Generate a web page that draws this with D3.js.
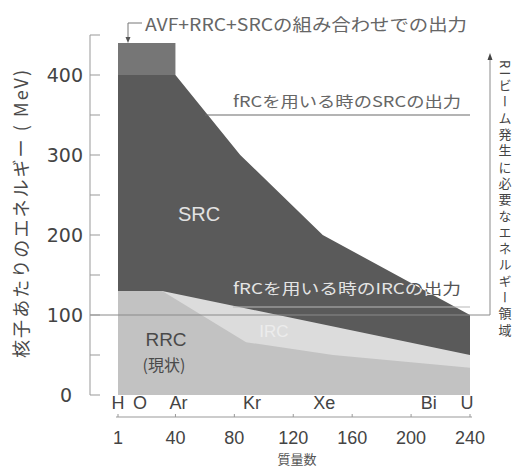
<!DOCTYPE html>
<html lang="ja">
<head>
<meta charset="utf-8">
<title>核子あたりのエネルギー</title>
<script src="https://d3js.org/d3.v7.min.js"></script>
<style>
	body { margin: 0; background: #fff; }
	text { font-family: "Liberation Sans", "Noto Sans CJK JP", sans-serif; }
	.jp { font-family: "Noto Sans CJK JP", sans-serif; }
</style>
</head>
<body>
<svg id="chart" width="515" height="470"></svg>
<script>
	// ---- data (mass number, MeV/u) ----
	var massTicks = [1, 40, 80, 120, 160, 200, 240];
	var energyTicks = [100, 200, 300, 400];
	var minorTicks = [50, 100, 150, 200, 250, 300, 350, 400, 450];
	var elements = ["H", "O", "Ar", "Kr", "Xe", "Bi", "U"];
	var elementMass = [1, 16, 42, 92, 141, 212, 238];

	var srcTop = [[1, 400], [40, 400], [84, 300], [140, 200], [240, 100]];   // SRC output
	var ircTop = [[1, 130], [31, 130], [240, 50]];                          // IRC output
	var rrcTop = [[1, 130], [31, 130], [88, 66], [147, 50], [240, 34]];     // RRC (present)
	var comboTop = [[1, 440], [40, 440]];                                    // AVF+RRC+SRC
	var comboBase = 400;
	var srcFrcLine = [[60, 350], [240, 350]];
	var ircFrcLine = [[79, 110], [240, 110]];
	var beamMin = 100;
	var beamMax = 425;

	var svg = d3.select("#chart");

	var x = d3.scaleLinear().domain([1, 240]).range([118, 470]);
	var y = d3.scaleLinear().domain([0, 450]).range([395, 35]);
	var axisX = 90;

	var area = d3.area()
		.x(function (d) { return x(d[0]); })
		.y0(y(0))
		.y1(function (d) { return y(d[1]); });

	// layers, back to front
	svg.append("path").datum(srcTop).attr("d", area).attr("fill", "#5a5a5a");
	svg.append("path").datum(ircTop).attr("d", area).attr("fill", "#dcdcdc");
	svg.append("path").datum(rrcTop).attr("d", area).attr("fill", "#c2c2c2");
	svg.append("path").datum(comboTop)
		.attr("d", area.y0(y(comboBase)))
		.attr("fill", "#767676");

	// clip = SRC band only (for the text that sits half on it)
	var line = d3.line()
		.x(function (d) { return x(d[0]); })
		.y(function (d) { return y(d[1]); });
	var band = srcTop.concat(ircTop.slice().reverse());
	svg.append("clipPath").attr("id", "srcband")
		.append("path").attr("d", line(band) + "Z");

	// fRC lines
	svg.append("path").datum(srcFrcLine).attr("d", line)
		.attr("stroke", "#6a6a6a").attr("stroke-width", 1.2).attr("fill", "none");
	svg.append("path").datum(ircFrcLine).attr("d", line)
		.attr("stroke", "#b8b8b8").attr("stroke-width", 1.2).attr("fill", "none");

	// beam energy range bracket
	var bx = x(240) + 20;
	svg.append("path")
		.attr("d", "M" + axisX + "," + y(beamMin) + "H" + bx + "V" + (y(beamMax) + 4))
		.attr("stroke", "#8a8a8a").attr("fill", "none");
	svg.append("path")
		.attr("d", "M" + (bx - 2.5) + "," + (y(beamMax) + 5) + "L" + bx + "," + (y(beamMax) - 2) + "L" + (bx + 2.5) + "," + (y(beamMax) + 5) + "Z")
		.attr("fill", "#444");

	// ---- y axis ----
	svg.append("path")
		.attr("d", "M" + axisX + "," + y(450) + "V" + y(0) + "H" + (axisX + 10))
		.attr("stroke", "#999").attr("fill", "none");
	svg.selectAll(".ytick").data(minorTicks).enter().append("line")
		.attr("x1", axisX).attr("x2", axisX + 10)
		.attr("y1", function (d) { return y(d); })
		.attr("y2", function (d) { return y(d); })
		.attr("stroke", "#999");
	svg.selectAll(".ylab").data(energyTicks).enter().append("text")
		.attr("x", 83).attr("y", function (d) { return y(d) + 7; })
		.attr("text-anchor", "end")
		.style("font-family", "DejaVu Sans").style("font-size", "19px")
		.attr("fill", "#444")
		.text(function (d) { return d; });
	svg.append("text")
		.attr("x", 72).attr("y", y(0) + 7).attr("text-anchor", "end")
		.style("font-family", "DejaVu Sans").style("font-size", "19px")
		.attr("fill", "#444").text("0");

	svg.append("text").attr("class", "jp")
		.attr("transform", "translate(28," + 214 + ") rotate(-90)")
		.attr("text-anchor", "middle")
		.attr("textLength", 288).attr("lengthAdjust", "spacing")
		.style("font-size", "18px").attr("fill", "#4a4a4a")
		.text("核子あたりのエネルギー ( MeV)");

	// ---- x axis ----
	var xAxisY = 417;
	svg.append("line")
		.attr("x1", x(1) - 2).attr("x2", x(240) + 2)
		.attr("y1", xAxisY).attr("y2", xAxisY)
		.attr("stroke", "#999");
	svg.selectAll(".xtick").data(massTicks).enter().append("line")
		.attr("x1", function (d) { return x(d); })
		.attr("x2", function (d) { return x(d); })
		.attr("y1", xAxisY - 3).attr("y2", xAxisY)
		.attr("stroke", "#999");
	svg.selectAll(".xlab").data(massTicks).enter().append("text")
		.attr("x", function (d) { return x(d); })
		.attr("y", 444)
		.attr("text-anchor", "middle")
		.style("font-size", "18px").attr("fill", "#444")
		.text(function (d) { return d; });
	svg.selectAll(".elem").data(elements).enter().append("text")
		.attr("x", function (d, i) { return x(elementMass[i]); })
		.attr("y", 409)
		.attr("text-anchor", "middle")
		.style("font-size", "18px").attr("fill", "#444")
		.text(function (d) { return d; });
	svg.append("text").attr("class", "jp")
		.attr("x", 297).attr("y", 464).attr("text-anchor", "middle")
		.style("font-size", "13px").attr("fill", "#555")
		.text("質量数");

	// ---- annotations ----
	svg.append("text").attr("class", "jp")
		.attr("x", 145).attr("y", 31)
		.attr("textLength", 322).attr("lengthAdjust", "spacingAndGlyphs")
		.style("font-size", "17px").attr("fill", "#666")
		.text("AVF+RRC+SRCの組み合わせでの出力");
	var ax = x(1) + 10;
	svg.append("path")
		.attr("d", "M" + (ax + 14) + ",23H" + ax + "V" + (y(440) - 5))
		.attr("stroke", "#777").attr("fill", "none");
	svg.append("path")
		.attr("d", "M" + (ax - 2.5) + "," + (y(440) - 6) + "L" + ax + "," + y(440) + "L" + (ax + 2.5) + "," + (y(440) - 6) + "Z")
		.attr("fill", "#555");

	svg.append("text").attr("class", "jp")
		.attr("x", 233).attr("y", 107)
		.attr("textLength", 228).attr("lengthAdjust", "spacingAndGlyphs")
		.style("font-size", "15px").attr("fill", "#666")
		.text("fRCを用いる時のSRCの出力");

	// IRC text: dark over white, light over SRC band
	function ircText(fill) {
		return svg.append("text").attr("class", "jp")
			.attr("x", 233).attr("y", 294)
			.attr("textLength", 228).attr("lengthAdjust", "spacingAndGlyphs")
			.style("font-size", "15px").attr("fill", fill)
			.text("fRCを用いる時のIRCの出力");
	}
	ircText("#555");
	ircText("#e4e4e4").attr("clip-path", "url(#srcband)");

	svg.append("text")
		.attr("x", 199).attr("y", 221).attr("text-anchor", "middle")
		.style("font-size", "20px").attr("fill", "#e2e2e2").text("SRC");
	svg.append("text")
		.attr("x", 166).attr("y", 346).attr("text-anchor", "middle")
		.style("font-size", "19px").attr("fill", "#4a4a4a").text("RRC");
	svg.append("text").attr("class", "jp")
		.attr("x", 164).attr("y", 371).attr("text-anchor", "middle")
		.style("font-size", "16px").attr("fill", "#4a4a4a").text("(現状)");
	svg.append("text")
		.attr("x", 274).attr("y", 337).attr("text-anchor", "middle")
		.style("font-size", "17px").attr("fill", "#ececec").text("IRC");

	// right vertical caption
	svg.append("text").attr("class", "jp")
		.attr("x", 505).attr("y", 60)
		.style("writing-mode", "vertical-rl")
		.style("letter-spacing", "3.3px")
		.style("font-size", "13px").attr("fill", "#444")
		.text("RIビーム発生に必要なエネルギー領域");
</script>
</body>
</html>
